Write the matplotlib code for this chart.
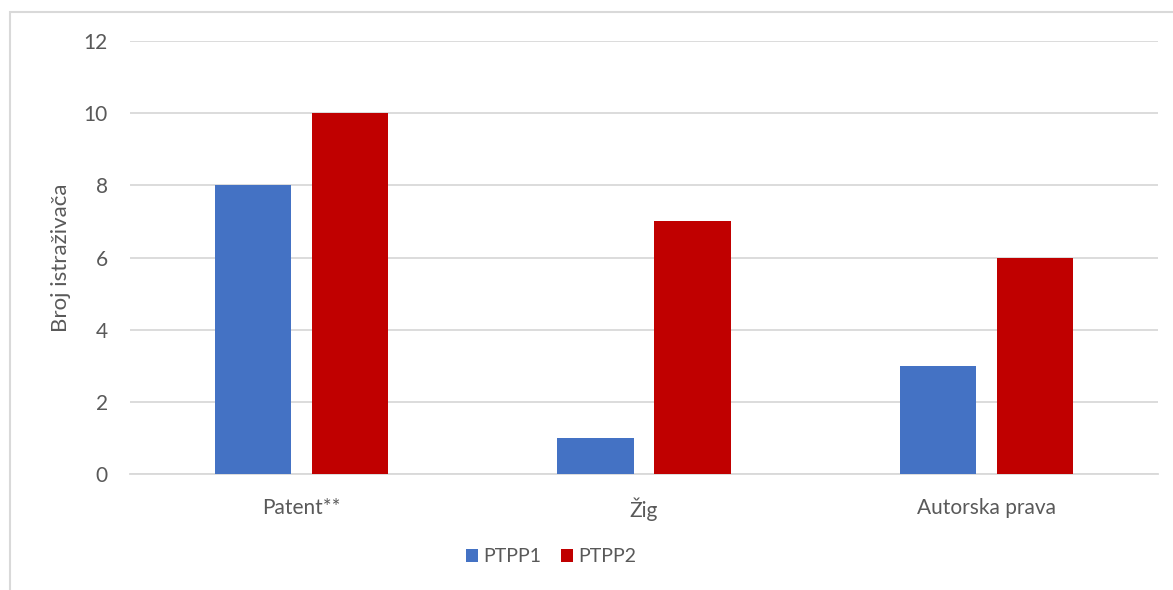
import matplotlib
matplotlib.use("Agg")
import matplotlib.pyplot as plt
import numpy as np
from matplotlib.patches import Rectangle

categories = ["Patent**", "Žig", "Autorska prava"]
ptpp1 = [8, 1, 3]
ptpp2 = [10, 7, 6]
series_names = ["PTPP1", "PTPP2"]
yticks = [0, 2, 4, 6, 8, 10, 12]

blue = "#4472C4"
red = "#C00000"
txt = "#595959"
grid = "#D9D9D9"

plt.rcParams['font.family'] = ['Lato', 'DejaVu Sans']

W, H = 1173, 590
fig = plt.figure(figsize=(W/100, H/100), dpi=100)
ax = fig.add_axes([130/W, 1 - 474/H, (1158-130)/W, (474-41)/H])

x = np.arange(len(categories))
w = 0.222
off = 0.1415
ax.bar(x - off, ptpp1, w, color=blue, label=series_names[0], zorder=3)
ax.bar(x + off, ptpp2, w, color=red, label=series_names[1], zorder=3)

ax.set_xlim(-0.5, 2.5)
ax.set_ylim(0, 12)
ax.set_yticks(yticks)
ax.set_yticklabels([str(v) for v in yticks])
ax.set_xticks(x)
ax.set_xticklabels(categories)
ax.yaxis.grid(True, color=grid, linewidth=1.3, zorder=0)
ax.set_axisbelow(True)
for s in ["top", "right", "left"]:
    ax.spines[s].set_visible(False)
ax.spines["bottom"].set_color(grid)
ax.spines["bottom"].set_linewidth(1.3)
ax.tick_params(axis="both", length=0, labelsize=15, colors=txt)
ax.tick_params(axis="y", pad=16)
ax.tick_params(axis="x", pad=17)
ax.set_ylabel("Broj istraživača", fontsize=16, color=txt, labelpad=9)

ax.legend(loc="center", bbox_to_anchor=(551/W, 1 - 557/H), bbox_transform=fig.transFigure,
          ncol=2, frameon=False, fontsize=14, handlelength=0.65, handleheight=0.65,
          handletextpad=0.25, columnspacing=1.0, labelcolor=txt)

fig.patches.append(Rectangle((10/W, -0.1), 1.2, 1 - 12/H + 0.1, transform=fig.transFigure,
                             fill=False, edgecolor=grid, linewidth=1.5))

fig.savefig("out.png", dpi=100)
